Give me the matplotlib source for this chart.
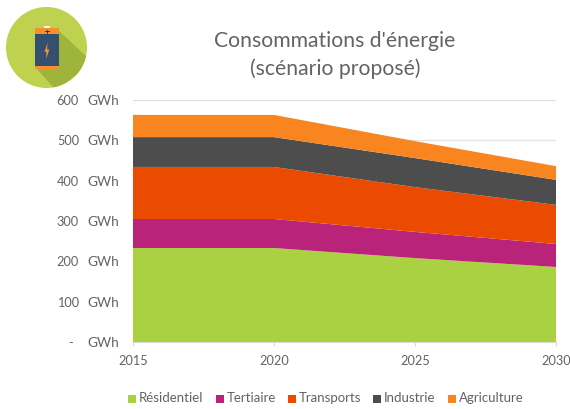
import numpy as np
import matplotlib
matplotlib.use('Agg')
import matplotlib.pyplot as plt
from matplotlib.patches import Circle, Polygon, Rectangle
from matplotlib.transforms import blended_transform_factory

plt.rcParams['font.family'] = ['Lato', 'DejaVu Sans']

W, H = 570, 409

# Data
years = [2015, 2020, 2025, 2030]
residentiel = [233, 233, 208, 186]
tertiaire = [72, 72, 65, 57]
transports = [129, 129, 111, 97]
industrie = [74, 74, 72, 62]
agriculture = [55, 55, 42, 34]
series_names = ['Résidentiel', 'Tertiaire', 'Transports', 'Industrie', 'Agriculture']
colors = ['#A9D142', '#B9247A', '#EB4B00', '#4D4D4D', '#F98520']
y_ticks = [0, 100, 200, 300, 400, 500, 600]
y_numbers = ['-', '100', '200', '300', '400', '500', '600']
text_color = '#636363'

fig = plt.figure(figsize=(W / 100, H / 100), dpi=100)
ax = fig.add_axes([133 / W, 1 - 342 / H, (556 - 133) / W, (342 - 100) / H])

# Stacked areas
ax.stackplot(years, residentiel, tertiaire, transports, industrie, agriculture,
             colors=colors, labels=series_names, linewidth=0, zorder=2)

ax.set_xlim(2015, 2030)
ax.set_ylim(0, 600)
ax.set_xticks([2015, 2020, 2025, 2030])
ax.set_yticks(y_ticks)
ax.set_yticklabels(['GWh'] * len(y_ticks))
ax.grid(axis='y', color='#E3E3E3', linewidth=1, zorder=1)
ax.set_axisbelow(True)
for s in ['top', 'right', 'left']:
    ax.spines[s].set_visible(False)
ax.spines['bottom'].set_color('#D9D9D9')
ax.spines['bottom'].set_zorder(3)
ax.tick_params(axis='y', length=0, pad=10, labelsize=9.8, labelcolor=text_color)
ax.tick_params(axis='x', length=3, color='#D9D9D9', pad=6.5, labelsize=9.2, labelcolor=text_color)

# Number part of the y labels, right aligned apart from the unit
trans = blended_transform_factory(fig.transFigure, ax.transData)
for val, lab in zip(y_ticks, y_numbers):
    xp = 79 if lab != '-' else 73
    ax.text(xp / W, val, lab, transform=trans, ha='right', va='center_baseline',
            fontsize=9.2, color=text_color, clip_on=False)

# Title
fig.text(335 / W, 1 - 41 / H, "Consommations d'énergie", ha='center', va='center',
         fontsize=15.2, color=text_color)
fig.text(335 / W, 1 - 69 / H, "(scénario proposé)", ha='center', va='center',
         fontsize=15.2, color=text_color)

# Legend
leg_x = [128, 216, 288, 373, 448]
for x, name, c in zip(leg_x, series_names, colors):
    fig.patches.append(Rectangle((x / W, 1 - 403 / H), 8 / W, 8 / H, transform=fig.transFigure,
                                 facecolor=c, edgecolor='none'))
    fig.text((x + 11) / W, 1 - 398.5 / H, name, ha='left', va='center',
             fontsize=9.5, color=text_color)

# Battery icon, drawn in pixel coordinates
icon = fig.add_axes([0, 0, 1, 1], facecolor='none')
icon.set_xlim(0, W)
icon.set_ylim(H, 0)
icon.axis('off')
disc = Circle((46.5, 47.5), 40.5, facecolor='#BED24F', edgecolor='none')
icon.add_patch(disc)
shadow = Polygon([[58, 30], [87, 57], [80, 72], [66, 83], [54, 88], [36, 68]],
                 facecolor='#9FB43A', edgecolor='none')
icon.add_patch(shadow)
shadow.set_clip_path(disc)
icon.add_patch(Rectangle((43.5, 25.5), 6, 3, facecolor='#F4F4F4', edgecolor='none'))
icon.add_patch(Rectangle((35, 28), 23.5, 41, facecolor='#F98F2C', edgecolor='none'))
icon.add_patch(Rectangle((35, 34), 23.5, 32, facecolor='#35506F', edgecolor='none'))
icon.plot([44.5, 48.5], [31.3, 31.3], color='#4A3A20', lw=0.7)
icon.plot([46.5, 46.5], [29.6, 33], color='#4A3A20', lw=0.7)
icon.add_patch(Polygon([[47.5, 43], [44.5, 52], [46.4, 52], [46.2, 59], [49.3, 49.5], [47.2, 49.5]],
                       facecolor='#F98F2C', edgecolor='none'))

fig.savefig('out.png', dpi=100)
